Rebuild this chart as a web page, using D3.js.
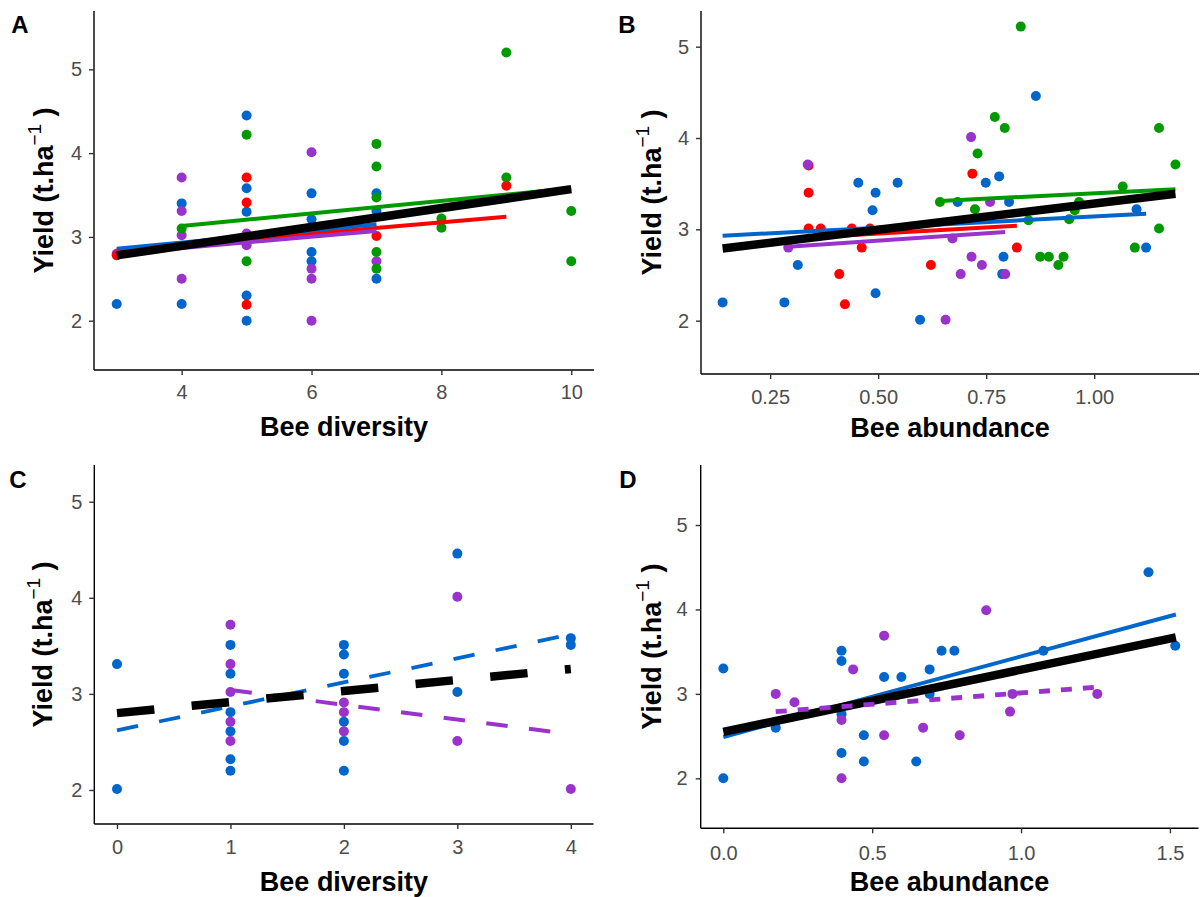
<!DOCTYPE html>
<html><head><meta charset="utf-8">
<script src="https://cdn.jsdelivr.net/npm/d3@7/dist/d3.min.js"></script>
<style>
body{margin:0;background:#fff;}
svg{display:block;font-family:"Liberation Sans",Arial,sans-serif;}
</style></head>
<body><svg id="chart" width="1201" height="897"></svg>
<script>
// ---------- DATA ----------
const COLORS = {blue:"#0066CC", green:"#009900", red:"#FF0000", purple:"#9933CC", black:"#000000"};

// Panel A: yield vs bee diversity
const aTicksX = [4, 6, 8, 10];
const yTicks = [2, 3, 4, 5];
const aBlue = [[3,2.2],[4,3.4],[4,2.2],[5,4.45],[5,3.58],[5,3.3],[5,2.3],[5,2.0],[6,3.52],[6,3.21],[6,2.82],[6,2.71],[7,3.52],[7,3.31],[7,2.5]];
const aGreen = [[4,3.1],[5,4.22],[5,2.71],[7,4.11],[7,3.84],[7,3.47],[7,2.82],[7,2.62],[8,3.22],[8,3.11],[9,5.2],[9,3.71],[10,3.31],[10,2.71]];
const aRed = [[3,2.78],[5,3.71],[5,3.41],[5,2.19],[7,3.01],[9,3.61]];
const aPurple = [[3,2.8],[4,3.71],[4,3.31],[4,3.02],[4,2.5],[5,3.04],[5,2.9],[6,4.01],[6,2.62],[6,2.5],[6,2.0],[7,2.71]];
const aLineBlue = [[3,2.86],[7,3.15]];
const aLineGreen = [[4,3.13],[10,3.58]];
const aLineRed = [[3,2.84],[9,3.24]];
const aLinePurple = [[3,2.8],[7,3.07]];
const aLineBlack = [[3,2.78],[10,3.57]];

// Panel B: yield vs bee abundance
const bTicksX = [0.25, 0.5, 0.75, 1.0];
const bBlue = [[0.14,2.2],[0.283,2.2],[0.314,2.61],[0.454,3.51],[0.494,3.4],[0.487,3.21],[0.494,2.3],[0.545,3.51],[0.597,2.01],[0.684,3.3],[0.749,3.51],[0.78,3.58],[0.79,2.7],[0.787,2.51],[0.803,3.3],[0.865,4.46],[1.098,3.22],[1.12,2.8]];
const bRed = [[0.339,3.7],[0.339,3.4],[0.339,3.01],[0.367,3.01],[0.41,2.51],[0.423,2.18],[0.439,3.01],[0.462,2.8],[0.481,3.01],[0.622,2.61],[0.718,3.61],[0.821,2.8]];
const bPurple = [[0.292,2.8],[0.337,3.71],[0.656,2.01],[0.672,2.9],[0.691,2.51],[0.715,4.01],[0.716,2.7],[0.74,2.61],[0.759,3.3],[0.794,2.51]];
const bGreen = [[0.643,3.3],[0.724,3.22],[0.73,3.83],[0.77,4.23],[0.793,4.11],[0.83,5.22],[0.848,3.1],[0.875,2.7],[0.895,2.7],[0.917,2.61],[0.929,2.7],[0.942,3.11],[0.955,3.21],[0.965,3.3],[1.066,3.47],[1.094,2.8],[1.15,4.11],[1.15,3.01],[1.188,3.71]];
const bLineBlue = [[0.14,2.93],[1.12,3.17]];
const bLineGreen = [[0.643,3.31],[1.188,3.44]];
const bLineRed = [[0.337,2.91],[0.821,3.04]];
const bLinePurple = [[0.292,2.81],[0.794,2.97]];
const bLineBlack = [[0.14,2.79],[1.188,3.39]];

// Panel C: yield vs bee diversity (subset)
const cTicksX = [0, 1, 2, 3, 4];
const cBlue = [[0,3.31],[0,2.01],[1,3.51],[1,3.21],[1,2.81],[1,2.61],[1,2.32],[1,2.2],[2,3.51],[2,3.41],[2,3.21],[2,2.71],[2,2.51],[2,2.2],[3,4.46],[3,3.02],[4,3.58],[4,3.51]];
const cPurple = [[1,3.72],[1,3.31],[1,3.02],[1,2.71],[1,2.51],[2,2.91],[2,2.81],[2,2.61],[3,4.01],[3,2.51],[4,2.01]];
const cLineBlue = [[0,2.62],[4,3.62]];
const cLinePurple = [[1,3.04],[4,2.58]];
const cLineBlack = [[0,2.8],[4,3.26]];

// Panel D: yield vs bee abundance (subset)
const dTicksX = [0, 0.5, 1.0, 1.5];
const dBlue = [[0,3.3],[0,2.0],[0.176,2.6],[0.397,3.51],[0.397,3.39],[0.397,2.76],[0.397,2.3],[0.472,2.51],[0.472,2.2],[0.54,3.2],[0.598,3.2],[0.648,2.2],[0.693,3.29],[0.693,3.0],[0.733,3.51],[0.776,3.51],[1.075,3.51],[1.428,4.44],[1.518,3.57]];
const dPurple = [[0.176,3.0],[0.239,2.9],[0.397,2.69],[0.397,2.0],[0.436,3.29],[0.54,3.69],[0.54,2.51],[0.671,2.6],[0.794,2.51],[0.883,3.99],[0.963,2.79],[0.971,3.0],[1.256,3.0]];
const dLineBlue = [[0,2.49],[1.52,3.94]];
const dLinePurple = [[0.176,2.79],[1.256,3.08]];
const dLineBlack = [[0,2.55],[1.52,3.67]];

// ---------- LAYOUT ----------
const svg = d3.select("#chart");

const panels = [
  {label:"A", lx:20, ly:24, xlab:"Bee diversity",
   xr:[94,594], xd:[2.65,10.35], yr:[370,11], yd:[1.412,5.696], xticks:aTicksX, xfmt:d3.format("d"),
   xTitleY:426, yTitleX:43, xPad:10, yPad:7,
   points:[[aBlue,"blue"],[aPurple,"purple"],[aRed,"red"],[aGreen,"green"]],
   lines:[[aLineGreen,"green",4,null],[aLineRed,"red",4,null],[aLineBlue,"blue",4,null],[aLinePurple,"purple",4,null],[aLineBlack,"black",8.5,null]]},
  {label:"B", lx:627, ly:24, xlab:"Bee abundance",
   xr:[701,1199], xd:[0.09,1.2425], yr:[374,11], yd:[1.416,5.391], xticks:bTicksX, xfmt:d3.format(".2f"),
   xTitleY:427, yTitleX:651, xPad:11, yPad:7,
   points:[[bBlue,"blue"],[bRed,"red"],[bPurple,"purple"],[bGreen,"green"]],
   lines:[[bLineRed,"red",4,null],[bLinePurple,"purple",4,null],[bLineGreen,"green",4,null],[bLineBlue,"blue",4,null],[bLineBlack,"black",8.5,null]]},
  {label:"C", lx:18, ly:479, xlab:"Bee diversity",
   xr:[94.3,593.5], xd:[-0.2,4.2], yr:[824,465], yd:[1.646,5.382], xticks:cTicksX, xfmt:d3.format("d"),
   xTitleY:881, yTitleX:42, xPad:11, yPad:7,
   points:[[cBlue,"blue"],[cPurple,"purple"]],
   lines:[[cLineBlue,"blue",3.8,"21.5,21.5"],[cLinePurple,"purple",4,"21.5,21.5"],[cLineBlack,"black",8.5,"37.5,37.5"]]},
  {label:"D", lx:628, ly:479, xlab:"Bee abundance",
   xr:[700.7,1198.5], xd:[-0.076,1.596], yr:[828.3,465], yd:[1.408,5.711], xticks:dTicksX, xfmt:d3.format(".1f"),
   xTitleY:881, yTitleX:651, xPad:13, yPad:8,
   points:[[dBlue,"blue"],[dPurple,"purple"]],
   lines:[[dLineBlue,"blue",4,null],[dLineBlack,"black",8.5,null],[dLinePurple,"purple",4.8,"11,11"]]}
];

panels.forEach(p => {
  const g = svg.append("g");
  const x = d3.scaleLinear().domain(p.xd).range(p.xr);
  const y = d3.scaleLinear().domain(p.yd).range(p.yr);

  // points
  p.points.forEach(([data, col]) => {
    g.append("g").selectAll("circle").data(data).join("circle")
      .attr("cx", d => x(d[0])).attr("cy", d => y(d[1]))
      .attr("r", 5).attr("fill", COLORS[col]);
  });

  // regression lines
  const line = d3.line().x(d => x(d[0])).y(d => y(d[1]));
  p.lines.forEach(([data, col, w, dash]) => {
    g.append("path").datum(data).attr("d", line)
      .attr("fill", "none").attr("stroke", COLORS[col])
      .attr("stroke-width", w).attr("stroke-linecap", "butt")
      .attr("stroke-dasharray", dash);
  });

  // axes
  const xAxis = d3.axisBottom(x).tickValues(p.xticks).tickFormat(p.xfmt).tickSizeInner(5).tickSizeOuter(0).tickPadding(p.xPad);
  const yAxis = d3.axisLeft(y).tickValues(yTicks).tickFormat(d3.format("d")).tickSizeInner(5).tickSizeOuter(0).tickPadding(p.yPad);
  const gx = g.append("g").attr("transform", `translate(0,${p.yr[0]})`).call(xAxis);
  const gy = g.append("g").attr("transform", `translate(${p.xr[0]},0)`).call(yAxis);
  [gx, gy].forEach(ax => {
    ax.select(".domain").attr("stroke", "#000").attr("stroke-width", 1.4);
    ax.selectAll(".tick line").attr("stroke", "#333").attr("stroke-width", 1.4);
    ax.selectAll(".tick text").attr("fill", "#4D4D4D").attr("font-size", 20)
      .attr("font-family", "'Liberation Sans',Arial,sans-serif");
  });
  gx.select(".domain").attr("d", `M${p.xr[0]},0H${p.xr[1]}`);
  gy.select(".domain").attr("d", `M0,${p.yr[0]}V${p.yr[1]}`);

  // titles
  g.append("text").attr("x", (p.xr[0] + p.xr[1]) / 2).attr("y", p.xTitleY)
    .attr("dy", "0.36em").attr("text-anchor", "middle")
    .attr("font-size", 27).attr("font-weight", "bold").attr("fill", "#000").text(p.xlab);

  const yt = g.append("text")
    .attr("transform", `translate(${p.yTitleX},${(p.yr[0] + p.yr[1]) / 2}) rotate(-90)`)
    .attr("dy", "0.36em").attr("text-anchor", "middle")
    .attr("font-size", 27).attr("font-weight", "bold").attr("fill", "#000");
  yt.append("tspan").text("Yield (t.ha");
  yt.append("tspan").attr("font-size", 19).attr("font-weight", "normal").attr("dy", "-0.6em").text("\u22121");
  yt.append("tspan").attr("dy", "0.42em").text("\u00a0)");

  // panel letter
  g.append("text").attr("x", p.lx).attr("y", p.ly).attr("dy", "0.36em")
    .attr("text-anchor", "middle").attr("font-size", 24).attr("font-weight", "bold")
    .attr("fill", "#000").text(p.label);
});
</script>
</body></html>
